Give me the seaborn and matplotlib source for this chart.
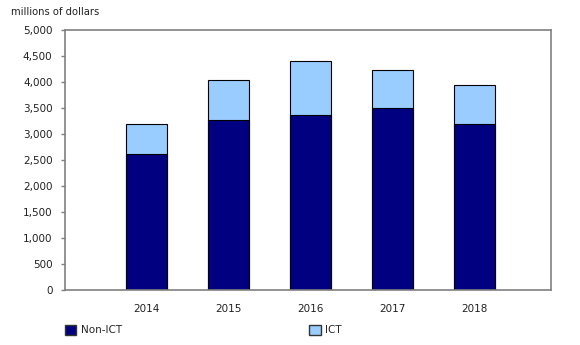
import matplotlib
matplotlib.use("Agg")
import matplotlib.pyplot as plt
import seaborn as sns
import pandas as pd
from matplotlib.patches import Patch

years = ["2014", "2015", "2016", "2017", "2018"]
non_ict = [2620, 3270, 3378, 3514, 3205]
ict = [575, 778, 1043, 722, 753]
y_ticks = [0, 500, 1000, 1500, 2000, 2500, 3000, 3500, 4000, 4500, 5000]

NAVY = "#000080"
LIGHT = "#99ccff"
GRAY = "#808080"

sns.set_theme(style="white")
plt.rcParams["font.family"] = ["DejaVu Sans"]

df = pd.DataFrame({"year": years, "Non-ICT": non_ict, "ICT": ict})
df["total"] = df["Non-ICT"] + df["ICT"]

fig = plt.figure(figsize=(5.8, 3.45), dpi=100)
ax = fig.add_axes([0.112, 0.1603, 0.838, 0.7513])

sns.barplot(data=df, x="year", y="total", color=LIGHT, width=0.5,
            edgecolor="black", linewidth=0.8, saturation=1, ax=ax)
sns.barplot(data=df, x="year", y="Non-ICT", color=NAVY, width=0.5,
            edgecolor="black", linewidth=0.8, saturation=1, ax=ax)

ax.set_xlim(-1, 4.93)
ax.set_ylim(0, 5000)
ax.set_yticks(y_ticks)
ax.set_yticklabels([f"{v:,}" for v in y_ticks], fontsize=7.5, color="#222222")
ax.tick_params(axis="x", labelsize=7.5, colors="#222222", length=0, pad=10)
ax.tick_params(axis="y", length=3, width=1, color=GRAY, left=True, pad=6)
ax.set_xlabel("")
ax.set_ylabel("")
for s in ax.spines.values():
    s.set_visible(True)
    s.set_color(GRAY)
    s.set_linewidth(1.2)

fig.text(11 / 580, 1 - 12 / 345, "millions of dollars", fontsize=7.2,
         color="#222222", va="center", ha="left")

handles = [Patch(facecolor=NAVY, edgecolor="#333333", label="Non-ICT"),
           Patch(facecolor=LIGHT, edgecolor="#333333", label="ICT")]
fig.legend(handles=handles, loc="center left",
           bbox_to_anchor=(65 / 580, 1 - 330 / 345), ncol=2, frameon=False,
           fontsize=7.5, handlelength=1.1, handleheight=1.1,
           handletextpad=0.4, columnspacing=18.0, borderaxespad=0, borderpad=0)

fig.savefig("out.png", dpi=100)
